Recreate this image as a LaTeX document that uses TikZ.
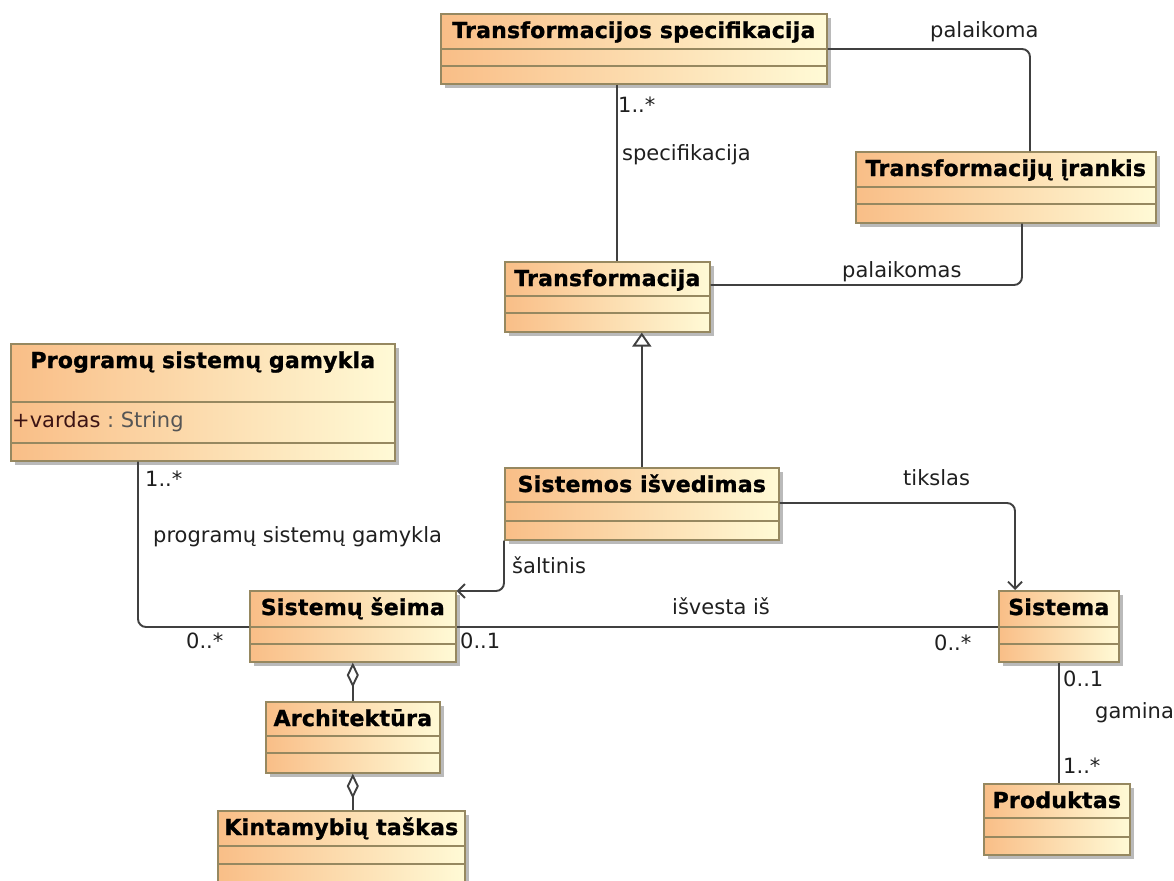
\documentclass[tikz,border=0pt]{standalone}
\usepackage{fontspec}
\setmainfont{DejaVu Sans}
\newfontfamily\clsfont[LetterSpace=1,FakeBold=1.2]{DejaVu Sans}
\usetikzlibrary{shadows,arrows.meta}

\definecolor{clsleft}{RGB}{249,190,135}
\definecolor{clsright}{RGB}{255,250,214}
\definecolor{clsborder}{RGB}{150,136,96}
\definecolor{wire}{RGB}{64,64,64}
\definecolor{attrname}{RGB}{60,20,20}
\definecolor{attrtype}{RGB}{85,85,85}

\tikzset{
  cls/.style={draw=clsborder, line width=1.6pt, left color=clsleft, right color=clsright,
    anchor=north west, inner sep=0pt,
    drop shadow={shadow xshift=4pt, shadow yshift=-4pt, fill=black!60, opacity=0.45}},
  cmp/.style={draw=clsborder, line width=1.3pt},
  clsname/.style={font=\clsfont\bfseries\fontsize{22}{26}\selectfont, anchor=base, inner sep=0pt},
  lbl/.style={font=\fontsize{21}{25}\selectfont, text=black!88, inner sep=0pt},
  conn/.style={draw=wire, line width=1.9pt, rounded corners=8pt},
  openhead/.style={-{Straight Barb[length=7pt, width=14pt]}},
  genhead/.style={-{Triangle[open, length=14pt, width=19pt, fill=white]}},
  agghead/.style={{Diamond[open, length=25pt, width=12pt, fill=white]}-},
}

% class box: name, x, y, width, height, first and second compartment line, title
\newcommand\umlclass[8]{%
  \node[cls, minimum width=#4pt, minimum height=#5pt] (#1) at (#2,#3) {};
  \draw[cmp] ([yshift=-#6pt]#1.north west) -- ([yshift=-#6pt]#1.north east);
  \draw[cmp] ([yshift=-#7pt]#1.north west) -- ([yshift=-#7pt]#1.north east);
  \node[clsname] (#1-name) at ([yshift=-25pt]#1.north) {#8};
}

\begin{document}
\begin{tikzpicture}[x=1pt, y=-1pt]
\useasboundingbox (0,0) rectangle (1174,880);

% classes
\umlclass{ts}{440}{13}{386}{70}{36}{53}{Transformacijos specifikacija}
\umlclass{ti}{855}{151}{300}{71}{36}{53}{Transformacijų įrankis}
\umlclass{tr}{504}{261}{205}{70}{35}{52}{Transformacija}
\umlclass{ps}{10}{343}{384}{117}{59}{100}{Programų sistemų gamykla}
\umlclass{si}{504}{467}{274}{72}{35}{54}{Sistemos išvedimas}
\umlclass{sf}{249}{590}{206}{71}{37}{54}{Sistemų šeima}
\umlclass{ar}{265}{701}{174}{71}{35}{52}{Architektūra}
\umlclass{kt}{217}{810}{247}{72}{36}{54}{Kintamybių taškas}
\umlclass{sy}{998}{590}{120}{71}{37}{54}{Sistema}
\umlclass{pr}{983}{783}{146}{71}{35}{54}{Produktas}

% attribute
\node[lbl, anchor=base west] (ps-attr) at ([xshift=2pt, yshift=-84pt]ps.north west)
  {\textcolor{attrname}{+vardas}\ \textcolor{attrtype}{:\ String}};

% associations
\coordinate (tsx) at ([xshift=177pt]ts.south west);
\draw[conn] (tsx) -- (tsx |- tr.north);
\draw[conn] ([yshift=-36pt]ts.north east) -| ([xshift=175pt]ti.north west);
\draw[conn] ([yshift=-24pt]tr.north east) -| ([xshift=167pt]ti.south west);
\draw[conn, genhead] (si.north) -- (si.north |- tr.south);
\draw[conn, openhead] ([yshift=-36pt]si.north east) -| ([xshift=17pt]sy.north west);
\draw[conn, openhead] (si.south west) |- ([yshift=-1pt]sf.north east);
\draw[conn] ([xshift=128pt]ps.south west) |- ([yshift=-37pt]sf.north west);
\draw[conn] ([yshift=-37pt]sf.north east) -- ([yshift=-37pt]sy.north west);
\draw[conn] (sy.south) -- (sy.south |- pr.north);
\draw[conn, agghead] (sf.south) -- (ar.north);
\draw[conn, agghead] (ar.south) -- (ar.south |- kt.north);

% role names and multiplicities
\node[lbl, anchor=base west] (m1) at (618,113) {1..*};
\node[lbl, anchor=base west] (r1) at (622,160) {specifikacija};
\node[lbl, anchor=base west] (r2) at (930,38) {palaikoma};
\node[lbl, anchor=base west] (r3) at (842,277) {palaikomas};
\node[lbl, anchor=base west] (r4) at (903,485) {tikslas};
\node[lbl, anchor=base west] (r5) at (512,573) {šaltinis};
\node[lbl, anchor=base west] (r6) at (672,614) {išvesta iš};
\node[lbl, anchor=base west] (m2) at (145,486) {1..*};
\node[lbl, anchor=base west] (r7) at (153,542) {programų sistemų gamykla};
\node[lbl, anchor=base west] (m3) at (186,648) {0..*};
\node[lbl, anchor=base west] (m4) at (460,648) {0..1};
\node[lbl, anchor=base west] (m5) at (934,650) {0..*};
\node[lbl, anchor=base west] (m6) at (1063,686) {0..1};
\node[lbl, anchor=base west] (r8) at (1095,718) {gamina};
\node[lbl, anchor=base west] (m7) at (1063,773) {1..*};
\end{tikzpicture}
\end{document}
